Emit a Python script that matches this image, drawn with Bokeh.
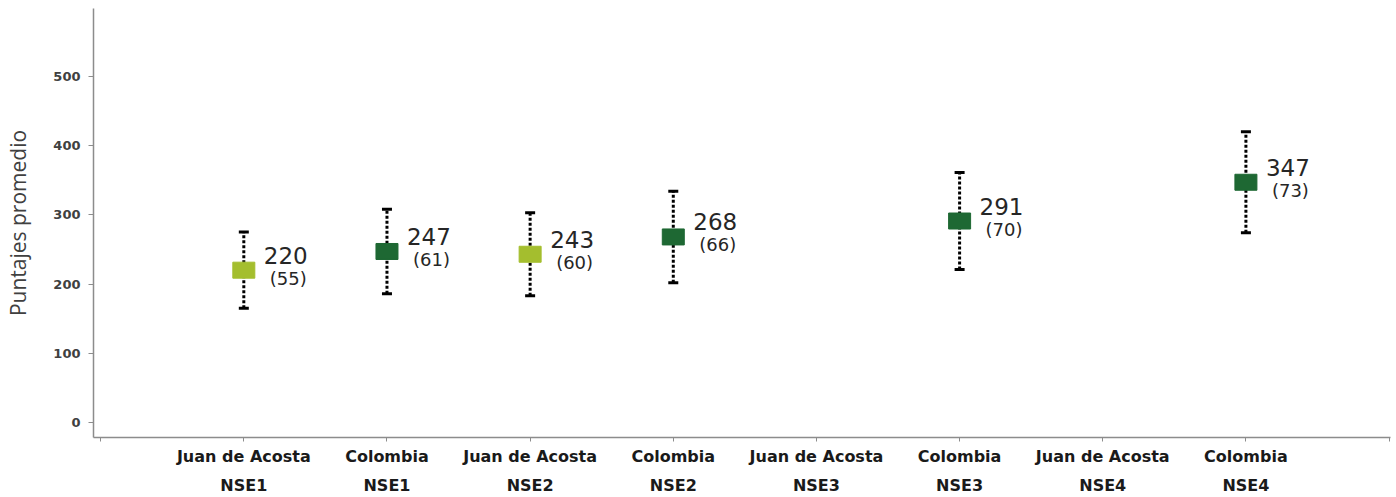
from bokeh.plotting import figure
from bokeh.models import ColumnDataSource, LinearAxis, FixedTicker, Range1d, Whisker, TeeHead
from bokeh.core.properties import value
from bokeh.embed import file_html
from bokeh.resources import INLINE

places = ["Juan de Acosta", "Colombia", "Juan de Acosta", "Colombia",
          "Juan de Acosta", "Colombia", "Juan de Acosta", "Colombia"]
groups = ["NSE1", "NSE1", "NSE2", "NSE2", "NSE3", "NSE3", "NSE4", "NSE4"]
means = [220, 247, 243, 268, None, 291, None, 347]
sds = [55, 61, 60, 66, None, 70, None, 73]

LIGHT = "#a4be2e"
DARK = "#1e6833"

xs, ys, lo, hi, cols, vl, sl = [], [], [], [], [], [], []
for i, (pl, m, s) in enumerate(zip(places, means, sds)):
    if m is None:
        continue
    xs.append(i + 1)
    ys.append(m)
    lo.append(m - s)
    hi.append(m + s)
    cols.append(LIGHT if pl == "Juan de Acosta" else DARK)
    vl.append(str(m))
    sl.append("(%d)" % s)

src = ColumnDataSource(dict(x=xs, y=ys, lo=lo, hi=hi, c=cols, v=vl, s=sl))

p = figure(width=1396, height=497, output_backend="svg", toolbar_location=None,
           x_range=Range1d(-0.05, 9.01), y_range=Range1d(-21.7, 598),
           min_border_left=93, min_border_right=6, min_border_top=8, min_border_bottom=60,
           x_axis_location=None)
p.outline_line_color = None
p.grid.visible = False
p.background_fill_color = "white"

# y axis
ya = p.yaxis[0]
ya.ticker = FixedTicker(ticks=[0, 100, 200, 300, 400, 500])
ya.axis_line_color = "#8c8c8c"
ya.axis_line_width = 1.5
ya.major_tick_line_color = "#8c8c8c"
ya.major_tick_out = 5
ya.major_tick_in = 0
ya.minor_tick_line_color = None
ya.major_label_text_font = "DejaVu Sans"
ya.major_label_text_font_style = "bold"
ya.major_label_text_font_size = "13px"
ya.major_label_text_color = "#404040"
ya.major_label_standoff = 8
ya.axis_label = "Puntajes promedio"
ya.axis_label_text_font = "Open Sans"
ya.axis_label_text_font_style = "normal"
ya.axis_label_text_font_size = "21px"
ya.axis_label_text_color = "#404040"
ya.axis_label_standoff = 18

# x axis: two-line category labels
xa = LinearAxis(ticker=FixedTicker(ticks=list(range(0, 10))))
xa.major_label_overrides = {0: "", 9: ""}
for i, (pl, g) in enumerate(zip(places, groups)):
    xa.major_label_overrides[i + 1] = pl + "\n" + g
xa.axis_line_color = "#8c8c8c"
xa.axis_line_width = 1.5
xa.major_tick_line_color = "#8c8c8c"
xa.major_tick_out = 4
xa.major_tick_in = 0
xa.minor_tick_line_color = None
xa.major_label_text_font = "DejaVu Sans"
xa.major_label_text_font_style = "bold"
xa.major_label_text_font_size = "16px"
xa.major_label_text_color = "#1a1a1a"
xa.major_label_text_line_height = 1.55
xa.major_label_standoff = 5
p.add_layout(xa, "below")

# error bars
w = Whisker(source=src, base="x", upper="hi", lower="lo", dimension="height",
            line_color="black", line_width=3, line_dash="3 2",
            upper_head=TeeHead(size=10, line_width=3, line_color="black"),
            lower_head=TeeHead(size=10, line_width=3, line_color="black"))
p.add_layout(w)

# markers
p.rect(x="x", y="y", width=22, height=16, width_units="screen", height_units="screen",
       fill_color="c", line_color="c", source=src)

# value labels
p.text(x="x", y="y", text="v", x_offset=20, y_offset=-15, source=src,
       text_font=value("DejaVu Sans"), text_font_size="23px", text_color="#262626",
       text_baseline="middle", text_align="left")
p.text(x="x", y="y", text="s", x_offset=26, y_offset=8, source=src,
       text_font=value("DejaVu Sans"), text_font_size="18px", text_color="#262626",
       text_baseline="middle", text_align="left")

open("out.html", "w").write(file_html(p, INLINE))
